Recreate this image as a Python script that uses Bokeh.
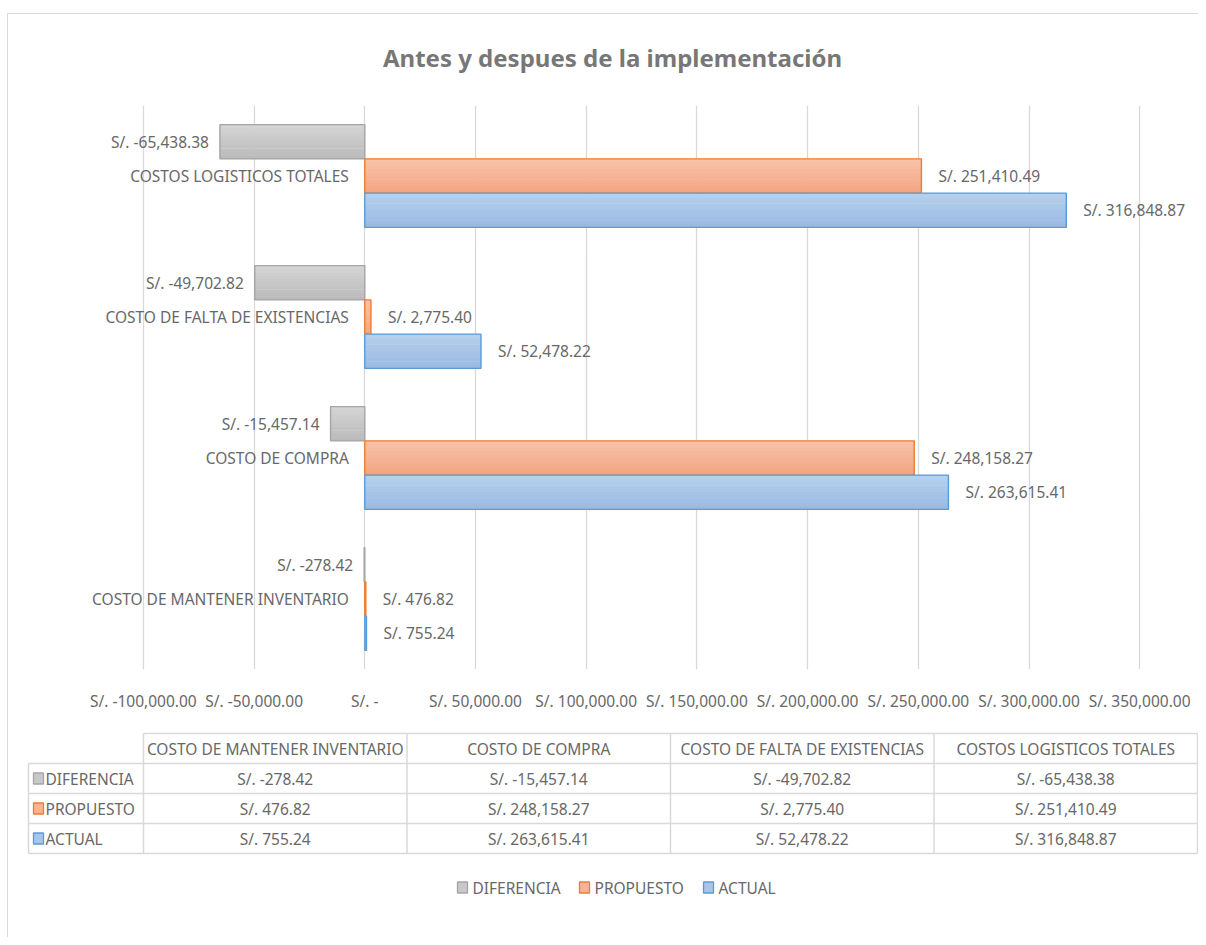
from bokeh.plotting import figure
from bokeh.models import Range1d, FactorRange, FixedTicker, ColumnDataSource
from bokeh.transform import dodge
from bokeh.layouts import column
from bokeh.embed import file_html
from bokeh.resources import INLINE
from bokeh.core.properties import value

# ---------------- data ----------------
TITLE = "Antes y despues de la implementación"
CATEGORIES = ["COSTO DE MANTENER INVENTARIO", "COSTO DE COMPRA",
              "COSTO DE FALTA DE EXISTENCIAS", "COSTOS LOGISTICOS TOTALES"]
SERIES = ["DIFERENCIA", "PROPUESTO", "ACTUAL"]
DIFERENCIA = [-278.42, -15457.14, -49702.82, -65438.38]
PROPUESTO = [476.82, 248158.27, 2775.40, 251410.49]
ACTUAL = [755.24, 263615.41, 52478.22, 316848.87]
TICK_VALUES = [-100000, -50000, 0, 50000, 100000, 150000, 200000, 250000, 300000, 350000]
TICK_LABELS = ["S/. -100,000.00", "S/. -50,000.00", "S/. -", "S/. 50,000.00",
               "S/. 100,000.00", "S/. 150,000.00", "S/. 200,000.00",
               "S/. 250,000.00", "S/. 300,000.00", "S/. 350,000.00"]


def money(v):
    return "S/. " + f"{v:,.2f}"


VALUES = {"DIFERENCIA": DIFERENCIA, "PROPUESTO": PROPUESTO, "ACTUAL": ACTUAL}

# ---------------- style ----------------
FONT = "Noto Sans"
TEXT = "#686868"
TITLE_COLOR = "#777777"
GRID = "#d9d9d9"
FS = "15.5px"
STYLE = {
    "DIFERENCIA": dict(top="#d5d5d5", bottom="#bababa", line="#a5a5a5", off=0.243, xo=-11, align="right"),
    "PROPUESTO": dict(top="#f8c3ab", bottom="#f3a47f", line="#ed7d31", off=0.0, xo=17, align="left"),
    "ACTUAL": dict(top="#b7d0ec", bottom="#99b9e2", line="#5b9bd5", off=-0.243, xo=17, align="left"),
}
BAR_H = 0.243

ORG_X, ORG_Y = 8, 14          # page position of the figures (after margin + border)
W = 1190
H0 = 91                       # title strip
FRAME_H = 564
H1 = FRAME_H + 56             # plot area + axis labels
H2 = 212                      # data table + legend
ZERO_PX = 356.3
PX_PER_UNIT = 110.7 / 50000.0


def hex2rgb(h):
    h = h.lstrip("#")
    return [int(h[i:i + 2], 16) for i in (0, 2, 4)]


def mix(a, b, t):
    ra, rb = hex2rgb(a), hex2rgb(b)
    return "#" + "".join(f"{int(round(x + (y - x) * t)):02x}" for x, y in zip(ra, rb))


def blank(height, top):
    f = figure(width=W, height=height, x_range=Range1d(ORG_X, ORG_X + W),
               y_range=Range1d(top + height, top), x_axis_location=None, y_axis_location=None,
               output_backend="svg", toolbar_location=None, min_border=0)
    f.outline_line_color = None
    f.grid.visible = False
    return f


# ---------------- title ----------------
p0 = blank(H0, ORG_Y)
p0.text(x=[612], y=[57], text=[TITLE], text_align="center", text_baseline="middle",
        text_font=value(FONT), text_font_size="24px", text_font_style="bold",
        text_color=TITLE_COLOR)

# ---------------- bar chart ----------------
src = ColumnDataSource(dict(
    cat=CATEGORIES,
    DIFERENCIA=DIFERENCIA, PROPUESTO=PROPUESTO, ACTUAL=ACTUAL,
    DIFERENCIA_lbl=[money(v) for v in DIFERENCIA],
    PROPUESTO_lbl=[money(v) for v in PROPUESTO],
    ACTUAL_lbl=[money(v) for v in ACTUAL],
))

p = figure(width=W, height=H1,
           x_range=Range1d(-ZERO_PX / PX_PER_UNIT, (W - ZERO_PX) / PX_PER_UNIT),
           y_range=FactorRange(factors=CATEGORIES),
           y_axis_location=None, output_backend="svg", toolbar_location=None,
           min_border_top=0, min_border_bottom=H1 - FRAME_H,
           min_border_left=0, min_border_right=0)
p.outline_line_color = None
p.ygrid.visible = False
p.xaxis.ticker = FixedTicker(ticks=TICK_VALUES)
p.xaxis.major_label_overrides = {v: l for v, l in zip(TICK_VALUES, TICK_LABELS)}
p.xaxis.axis_line_color = None
p.xaxis.major_tick_line_color = None
p.xaxis.minor_tick_line_color = None
p.xaxis.major_label_standoff = 14
p.xaxis.major_label_text_font = FONT
p.xaxis.major_label_text_font_size = FS
p.xaxis.major_label_text_color = TEXT
p.xgrid.grid_line_color = GRID
p.xgrid.grid_line_width = 1.3

N = 10
for s in SERIES:
    st = STYLE[s]
    for k in range(N):
        yoff = st["off"] + BAR_H / 2 - (k + 0.5) * BAR_H / N
        p.hbar(y=dodge("cat", yoff, range=p.y_range), left=0, right=s,
               height=BAR_H / N * 1.12, fill_color=mix(st["top"], st["bottom"], (k + 0.5) / N),
               line_color=None, source=src)
    p.hbar(y=dodge("cat", st["off"], range=p.y_range), left=0, right=s, height=BAR_H,
           fill_color=None, line_color=st["line"], line_width=1.4, source=src)
    p.text(x=s, y=dodge("cat", st["off"], range=p.y_range), text=s + "_lbl", source=src,
           x_offset=st["xo"], text_align=st["align"], text_baseline="middle",
           text_font=value(FONT), text_font_size=FS, text_color=TEXT)

# category labels next to the vertical axis (at zero)
p.text(x=0, y="cat", text="cat", source=src, x_offset=-16, text_align="right",
       text_baseline="middle", text_font=value(FONT), text_font_size=FS, text_color=TEXT)

# ---------------- data table + legend ----------------
TOP = ORG_Y + H0 + H1
p2 = blank(H2, TOP)

LEG_LEFT = 28
TAB_LEFT = 143
TAB_RIGHT = 1197
HEAD_TOP = 733
ROW_H = 30
ncol = len(CATEGORIES)
col_w = (TAB_RIGHT - TAB_LEFT) / ncol
col_edges = [TAB_LEFT + i * col_w for i in range(ncol + 1)]
row_edges = [HEAD_TOP + ROW_H * (i + 1) for i in range(len(SERIES) + 1)]
bottom = row_edges[-1]

x0s, y0s, x1s, y1s = [TAB_LEFT], [HEAD_TOP], [TAB_RIGHT], [HEAD_TOP]
for y in row_edges:
    x0s.append(LEG_LEFT); y0s.append(y); x1s.append(TAB_RIGHT); y1s.append(y)
x0s.append(LEG_LEFT); y0s.append(row_edges[0]); x1s.append(LEG_LEFT); y1s.append(bottom)
for x in col_edges:
    x0s.append(x); y0s.append(HEAD_TOP); x1s.append(x); y1s.append(bottom)
p2.segment(x0=x0s, y0=y0s, x1=x1s, y1=y1s, line_color=GRID, line_width=1.5)

txt = dict(text_font=value(FONT), text_font_size=FS, text_color=TEXT, text_baseline="middle")
p2.text(x=[TAB_LEFT + (i + 0.5) * col_w for i in range(ncol)],
        y=[HEAD_TOP + ROW_H / 2] * ncol, text=CATEGORIES, text_align="center", **txt)
for r, s in enumerate(SERIES):
    yc = HEAD_TOP + ROW_H * (r + 1) + ROW_H / 2
    p2.text(x=[TAB_LEFT + (i + 0.5) * col_w for i in range(ncol)], y=[yc] * ncol,
            text=[money(v) for v in VALUES[s]], text_align="center", **txt)
    st = STYLE[s]
    p2.rect(x=[LEG_LEFT + 10], y=[yc], width=10, height=11,
            fill_color=mix(st["top"], st["bottom"], 0.5), line_color=st["line"], line_width=1.3)
    p2.text(x=[LEG_LEFT + 17], y=[yc], text=[s], text_align="left", **txt)

# legend at bottom
LEG_Y = 887
LEG_SWATCH_X = [462, 584, 708]
for s, sx in zip(SERIES, LEG_SWATCH_X):
    st = STYLE[s]
    p2.rect(x=[sx], y=[LEG_Y], width=10, height=11,
            fill_color=mix(st["top"], st["bottom"], 0.5), line_color=st["line"], line_width=1.3)
    p2.text(x=[sx + 10], y=[LEG_Y], text=[s], text_align="left", **txt)

layout = column(p0, p, p2, spacing=0,
                styles={"border-top": "1px solid #d9d9d9", "border-left": "1px solid #d9d9d9",
                        "margin-left": f"{ORG_X - 1}px", "margin-top": f"{ORG_Y - 1}px"})
open("out.html", "w").write(file_html(layout, INLINE))
